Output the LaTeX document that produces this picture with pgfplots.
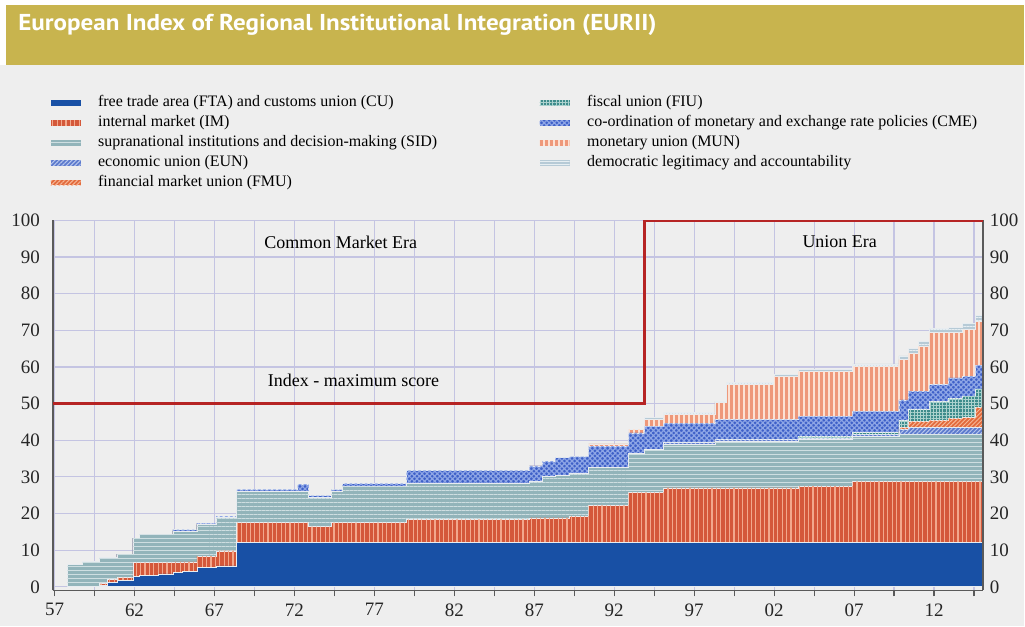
\documentclass[border=0pt]{standalone}
\usepackage{fontspec}
\setmainfont{Liberation Serif}
\newfontfamily\titlefont{PT Sans}
\usepackage{graphicx}
\usepackage{pgfplots}
\pgfplotsset{compat=1.18}
\usepackage{pgfplotstable}
\usetikzlibrary{patterns.meta}

\definecolor{bggray}{RGB}{238,238,238}
\definecolor{titlegold}{RGB}{200,180,78}
\definecolor{gridc}{RGB}{196,196,226}
\definecolor{axisgray}{RGB}{90,90,90}
\definecolor{maxred}{RGB}{182,36,36}
\definecolor{ftablue}{RGB}{24,80,165}
\definecolor{imred}{RGB}{212,88,58}
\definecolor{imlight}{RGB}{242,168,140}
\definecolor{sidteal}{RGB}{146,180,186}
\definecolor{sidlight}{RGB}{206,222,225}
\definecolor{eunblue}{RGB}{92,122,205}
\definecolor{eunlight}{RGB}{182,198,236}
\definecolor{fmuor}{RGB}{226,106,60}
\definecolor{fmulight}{RGB}{246,182,150}
\definecolor{fiuteal}{RGB}{62,140,140}
\definecolor{fiulight}{RGB}{172,210,206}
\definecolor{cmeblue}{RGB}{62,96,200}
\definecolor{cmelight}{RGB}{142,166,230}
\definecolor{munor}{RGB}{238,152,122}
\definecolor{munlight}{RGB}{252,226,212}
\definecolor{demgray}{RGB}{182,202,214}
\definecolor{demlight}{RGB}{230,238,242}
\definecolor{edge}{RGB}{232,236,240}

\tikzset{
  lay1/.style={fill=ftablue},
  lay2/.style={fill=imred, postaction={draw=none, pattern={Lines[angle=90,distance=2.2pt,line width=0.6pt]}, pattern color=imlight}},
  lay3/.style={fill=sidteal, postaction={draw=none, pattern={Lines[angle=0,distance=2pt,line width=0.6pt]}, pattern color=sidlight}},
  lay4/.style={fill=eunblue, postaction={draw=none, pattern={Lines[angle=45,distance=1.5pt,line width=0.5pt]}, pattern color=eunlight}},
  lay5/.style={fill=fmuor, postaction={draw=none, pattern={Lines[angle=45,distance=1.5pt,line width=0.5pt]}, pattern color=fmulight}},
  lay6/.style={fill=fiuteal, postaction={draw=none, pattern={Hatch[angle=0,distance=1.6pt,line width=0.5pt]}, pattern color=fiulight}},
  lay7/.style={fill=cmeblue, postaction={draw=none, pattern={Hatch[angle=45,distance=1.8pt,line width=0.6pt]}, pattern color=cmelight}},
  lay8/.style={fill=munor, postaction={draw=none, pattern={Lines[angle=90,distance=2.5pt,line width=0.9pt]}, pattern color=munlight}},
  lay9/.style={fill=demgray, postaction={draw=none, pattern={Lines[angle=0,distance=1.5pt,line width=0.5pt]}, pattern color=demlight}},
}

\pgfplotstableread{
yr fta im sid eun fmu fiu cme mun dem
1957.8 0 0 6.1 0 0 0 0 0 0
1958.75 0 0 7.0 0 0 0 0 0 0
1959.8 0.3 0.6 7.1 0 0 0 0 0 0
1960.3 1.3 0.7 6.0 0 0 0 0 0 0
1960.9 1.8 0.7 6.4 0 0 0 0 0 0
1961.9 2.9 3.7 6.7 0 0 0 0 0 0
1962.3 3.1 3.5 7.7 0 0 0 0 0 0
1963.5 3.5 3.1 7.7 0 0 0 0 0 0
1964.4 3.9 2.9 8.4 0 0 0 0.4 0 0
1965.0 4.3 2.5 8.4 0 0 0 0.4 0 0
1965.9 5.2 3.2 8.6 0 0 0 0.4 0 0
1967.1 5.7 4.1 9.1 0 0 0 0.4 0 0
1968.4 12 5.5 8.6 0 0 0 0.5 0 0
1972.2 12 5.5 8.6 0 0 0 1.9 0 0
1972.9 12 4.4 8.1 0 0 0 0.4 0 0
1974.3 12 5.5 8.5 0 0 0 0.5 0 0
1975.0 12 5.5 10.0 0 0 0 0.7 0 0
1979.0 12 6.4 9.8 0 0 0 3.6 0 0
1986.7 12 6.8 10.0 0 0 0 4.2 0 0
1987.5 12 6.8 11.4 0 0 0 4.1 0 0
1988.3 12 6.8 11.7 0 0 0 4.7 0 0
1989.2 12 7.3 11.7 0 0 0 4.5 0 0
1990.4 12 10.2 10.3 0 0 0 5.9 0.6 0
1992.9 12 13.8 10.7 0 0 0 5.5 1.0 0
1993.9 12 13.8 11.7 0 0 0 6.3 1.8 0.6
1995.1 12 15.0 11.8 0.5 0 0 5.4 2.3 0.5
1998.3 12 15.0 12.7 0.5 0 0 5.4 4.6 0.5
1999.0 12 15.0 12.7 0.5 0 0 5.4 9.6 0.6
2002.0 12 15.0 12.7 0.5 0 0 5.4 11.8 0.6
2003.5 12 15.5 12.7 0.4 0 0.5 5.4 12.3 0.6
2006.9 12 16.8 12.3 0.5 0 0.5 5.8 12.3 0.6
2009.8 12 16.8 12.7 1.5 0.5 1.9 5.6 11.0 1.0
2010.4 12 16.8 12.7 1.9 1.8 3.2 5.0 10.4 1.2
2011.0 12 16.8 12.7 1.9 1.8 3.2 5.0 12.2 1.4
2011.7 12 16.8 12.7 1.9 2.1 5.1 4.6 14.1 1.2
2012.9 12 16.8 12.7 1.9 2.6 5.5 5.5 12.3 1.5
2013.8 12 16.8 12.7 1.9 2.8 5.8 5.5 12.7 1.7
2014.6 12 16.8 12.7 1.9 5.6 5.0 6.5 11.9 1.6
2015.05 12 16.8 12.7 1.9 5.6 5.0 6.5 11.9 1.6
}\eurii

\pgfplotsset{
  common/.style={
    at={(0,0)}, anchor=south west, scale only axis,
    width=465.5pt, height=185.3pt,
    xmin=1956.9, xmax=2015.05, ymin=-1, ymax=100,
    ytick={0,10,...,100}, ytick style={draw=none},
    axis line style={draw=axisgray, line width=0.8pt},
    tick label style={font=\fontsize{9.5}{10}\selectfont, text=black!85},
    /pgf/number format/assume math mode=true,
    legend cell align=left,
    legend image code/.code={\path[##1, draw=none] (0pt,-1.3pt) rectangle (15pt,1.3pt);},
  },
  legstyle/.style={legend style={at={(#1,1.344)}, anchor=north west, draw=none, fill=none,
    inner sep=0pt, font=\fontsize{8}{9.6}\selectfont, row sep=0.4pt,
    nodes={inner sep=0.8pt, text height=6pt, text depth=2pt},
    /tikz/every odd column/.append style={column sep=8pt}}},
}

\begin{document}
\begin{tikzpicture}
\fill[white] (-26.5pt,-17.9pt) rectangle (486pt,295.6pt);
\fill[bggray] (-26.5pt,-17.9pt) rectangle (486pt,263.1pt);
\fill[titlegold] (-23.5pt,263.1pt) rectangle (486pt,293.1pt);
\node[anchor=base west, inner sep=0pt, text=white] at (-17.5pt,280.2pt)
  {\resizebox{319.5pt}{8.2pt}{\titlefont\bfseries European Index of Regional Institutional Integration (EURII)}};

\begin{axis}[common, legstyle=-0.003,
  stack plots=y,
  axis x line*=bottom, axis y line*=left,
  xtick={1957,1962,...,2012},
  xticklabels={57,62,67,72,77,82,87,92,97,02,07,12},
  minor xtick={1959.5,1964.5,...,2014.5},
  xmajorgrids, xminorgrids, ymajorgrids,
  grid style={draw=gridc, line width=0.6pt},
  minor grid style={draw=gridc, line width=0.6pt},
  tick align=outside, major tick length=3pt, minor tick length=3pt,
  xtick style={draw=axisgray, line width=0.6pt},
  every axis plot/.append style={const plot, draw=edge, line width=0.35pt},
]
\addplot[lay1] table[x=yr,y=fta] {\eurii} \closedcycle;
\addplot[lay2] table[x=yr,y=im] {\eurii} \closedcycle;
\addplot[lay3] table[x=yr,y=sid] {\eurii} \closedcycle;
\addplot[lay4] table[x=yr,y=eun] {\eurii} \closedcycle;
\addplot[lay5] table[x=yr,y=fmu] {\eurii} \closedcycle;
\addplot[lay6] table[x=yr,y=fiu] {\eurii} \closedcycle;
\addplot[lay7] table[x=yr,y=cme] {\eurii} \closedcycle;
\addplot[lay8] table[x=yr,y=mun] {\eurii} \closedcycle;
\addplot[lay9] table[x=yr,y=dem] {\eurii} \closedcycle;
\legend{free trade area (FTA) and customs union (CU), internal market (IM),
  supranational institutions and decision-making (SID), economic union (EUN),
  financial market union (FMU)}
\end{axis}

\begin{axis}[common, legstyle=0.523,
  axis y line*=right, hide x axis,
]
\addlegendimage{lay6, draw=none}
\addlegendimage{lay7, draw=none}
\addlegendimage{lay8, draw=none}
\addlegendimage{lay9, draw=none}
\addplot[const plot, draw=maxred, line width=1.5pt, forget plot] coordinates {
  (1956.9,50) (1993.9,50) (1993.9,100) (2015.05,100)};
\node[font=\fontsize{9}{10}\selectfont] at (axis cs:1974.9,94.1) {Common Market Era};
\node[font=\fontsize{9}{10}\selectfont] at (axis cs:2006.1,94.1) {Union Era};
\node[font=\fontsize{9}{10}\selectfont] at (axis cs:1975.7,56.3) {Index - maximum score};
\legend{fiscal union (FIU), co-ordination of monetary and exchange rate policies (CME),
  monetary union (MUN), democratic legitimacy and accountability}
\end{axis}
\end{tikzpicture}
\end{document}
